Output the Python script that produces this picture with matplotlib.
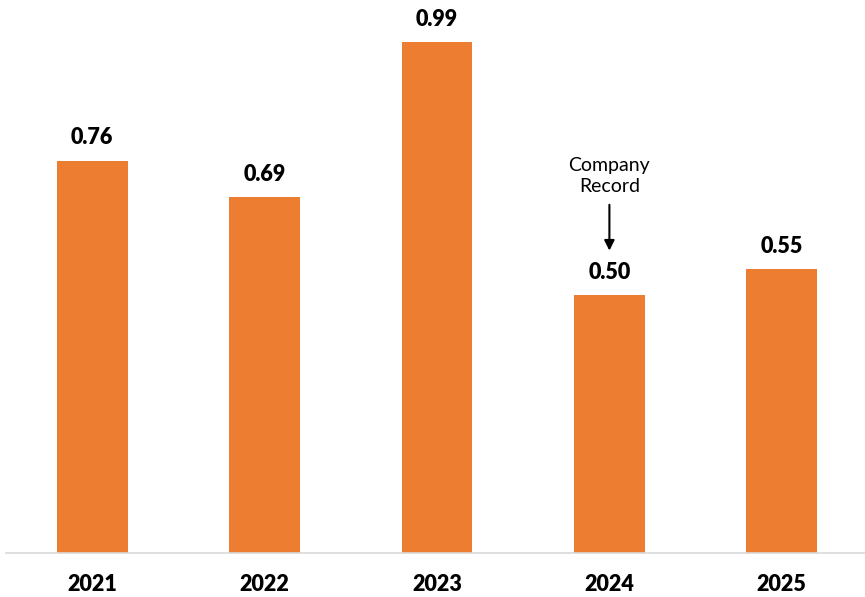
import matplotlib
matplotlib.use('Agg')
import matplotlib.pyplot as plt

years = ['2021', '2022', '2023', '2024', '2025']
values = [0.76, 0.69, 0.99, 0.50, 0.55]
note_text = 'Company\nRecord'
note_index = 3

plt.rcParams['font.family'] = ['Lato', 'DejaVu Sans']

fig = plt.figure(figsize=(8.65, 5.97), dpi=100)
ax = fig.add_axes([6 / 865, 44 / 597, 862 / 865, 553 / 597])

bars = ax.bar(range(len(years)), values, width=0.41, color='#ED7D31')
ax.set_xlim(-0.5, len(years) - 0.5)
ax.set_ylim(0, 1.072)

# value labels above each bar
for i, v in enumerate(values):
    ax.annotate(f'{v:.2f}', xy=(i, v), xytext=(0, 9), textcoords='offset points',
                ha='center', va='bottom', fontsize=15.5, fontweight='heavy')

# callout arrow
ax.annotate(note_text, xy=(note_index, values[note_index]), xytext=(0, 72),
            textcoords='offset points', ha='center', va='bottom', fontsize=14,
            linespacing=1.3,
            arrowprops=dict(arrowstyle='-|>', color='black', lw=1.5,
                            shrinkA=5, shrinkB=32, mutation_scale=15))

ax.set_xticks(range(len(years)))
ax.set_xticklabels(years, fontsize=15.5, fontweight='heavy')
ax.tick_params(axis='x', length=0, pad=15)
ax.set_yticks([])
for side in ['top', 'right', 'left']:
    ax.spines[side].set_visible(False)
ax.spines['bottom'].set_color('#D9D9D9')
ax.spines['bottom'].set_linewidth(1.2)

fig.savefig('out.png', dpi=100)
